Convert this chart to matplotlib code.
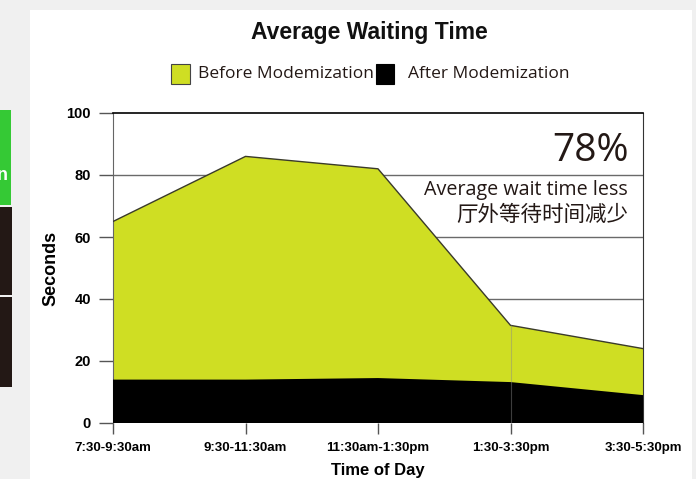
import matplotlib.pyplot as plt
from matplotlib.patches import Rectangle

# Average waiting time per time slot (seconds)
time_slots = ['7:30-9:30am', '9:30-11:30am', '11:30am-1:30pm', '1:30-3:30pm', '3:30-5:30pm']
before_wait = [65, 86, 82, 31.5, 24]
after_wait = [14, 14, 14.5, 13.2, 9]
y_ticks = [0, 20, 40, 60, 80, 100]

W, H = 696, 479
GREEN = '#cfde23'
DARK_TEXT = '#231815'

fig = plt.figure(figsize=(W / 100, H / 100), dpi=100, facecolor='#f0f0f0')


def fx(px):
    return px / W


def fy(py):
    return 1 - py / H


# white page panel
fig.patches.append(Rectangle((fx(30), 0), fx(692) - fx(30), fy(10), transform=fig.transFigure,
                             facecolor='white', edgecolor='none', zorder=-2))

# pieces of the neighbouring slide elements on the left edge
fig.patches.append(Rectangle((0, fy(205)), fx(11), fy(110) - fy(205), transform=fig.transFigure,
                             facecolor='#35c935', edgecolor='none', zorder=-1))
fig.text(fx(-3), fy(176), 'n', color='white', fontsize=13, fontweight='bold',
         ha='left', va='center', family='Liberation Sans')
for top, bot in [(207, 295), (297, 387)]:
    fig.patches.append(Rectangle((0, fy(bot)), fx(12), fy(top) - fy(bot), transform=fig.transFigure,
                                 facecolor='#231815', edgecolor='none', zorder=-1))

ax = fig.add_axes([fx(113), fy(423), fx(643) - fx(113), fy(113) - fy(423)])
ax.set_facecolor('none')
ax.set_zorder(2)

x = list(range(len(time_slots)))
for v in y_ticks[1:-1]:
    ax.axhline(v, color='#6a6a6a', lw=1.0, zorder=1)
ax.fill_between(x, 0, before_wait, facecolor=GREEN, edgecolor='none', zorder=2)
ax.plot(x, before_wait, color='#3a3a2a', lw=1.0, zorder=3)
ax.fill_between(x, 0, after_wait, facecolor='black', edgecolor='none', zorder=4)
# faint seam through the fill at the 1:30 slot
ax.vlines(3, 0, before_wait[3], color='#888888', lw=0.8, alpha=0.45, zorder=5)

ax.set_xlim(0, 4)
ax.set_ylim(0, 100)
ax.set_xticks(x)
ax.set_xticklabels(time_slots, fontsize=9.5, fontweight='bold', family='Liberation Sans')
ax.set_yticks(y_ticks)
ax.set_yticklabels([str(v) for v in y_ticks], fontsize=10.5, fontweight='bold', family='Liberation Sans')
ax.tick_params(axis='x', direction='out', length=8, width=1, color='#555555', pad=6)
ax.tick_params(axis='y', direction='out', length=10, width=1, color='#555555', pad=6)

ax.spines['top'].set_color('black')
ax.spines['top'].set_linewidth(1.2)
ax.spines['left'].set_color('#666666')
ax.spines['right'].set_color('#333333')
ax.spines['bottom'].set_visible(False)

ax.set_xlabel('Time of Day', fontsize=12, fontweight='bold', family='Liberation Sans', labelpad=6)
ax.set_ylabel('Seconds', fontsize=13, fontweight='bold', family='Liberation Sans', labelpad=5)

# title and legend
fig.text(fx(369), fy(32), 'Average Waiting Time', ha='center', va='center', fontsize=16.5,
         fontweight='bold', family='Liberation Sans', color='#111111')
fig.patches.append(Rectangle((fx(171), fy(84)), fx(19), fy(64) - fy(84), transform=fig.transFigure,
                             facecolor=GREEN, edgecolor='#444444', lw=0.8, zorder=3))
fig.text(fx(198), fy(74), 'Before Modemization', ha='left', va='center', fontsize=12.5,
         family='Open Sans', color=DARK_TEXT)
fig.patches.append(Rectangle((fx(376), fy(84)), fx(18), fy(64) - fy(84), transform=fig.transFigure,
                             facecolor='black', edgecolor='black', lw=0.8, zorder=3))
fig.text(fx(408), fy(74), 'After Modemization', ha='left', va='center', fontsize=12.5,
         family='Open Sans', color=DARK_TEXT)

# reduction callout
fig.text(fx(629), fy(161), '78%', ha='right', va='baseline', fontsize=28,
         family='Open Sans', color=DARK_TEXT, zorder=5)
fig.text(fx(628), fy(195), 'Average wait time less', ha='right', va='baseline', fontsize=14.2,
         family=['Open Sans', 'Noto Sans CJK SC'], color=DARK_TEXT, zorder=5)
fig.text(fx(628), fy(221), '厅外等待时间减少', ha='right', va='baseline', fontsize=15.5,
         family=['Noto Sans CJK SC', 'DejaVu Sans'], color=DARK_TEXT, zorder=5)

fig.savefig('out.png', dpi=100, facecolor=fig.get_facecolor())
